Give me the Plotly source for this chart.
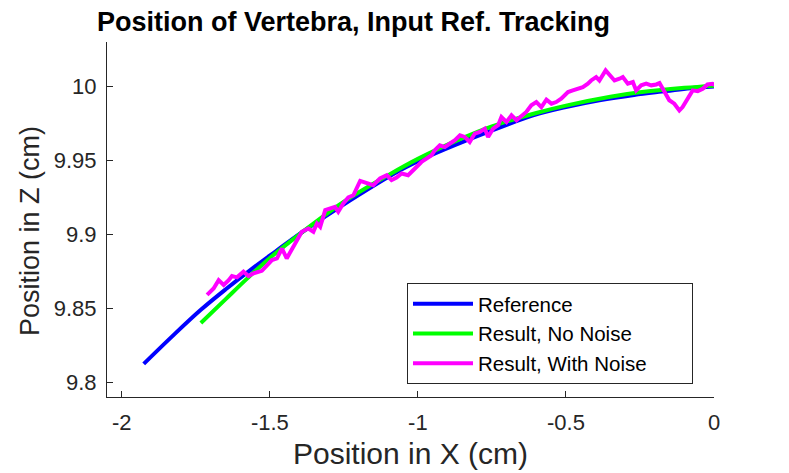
import plotly.graph_objects as go

# reference trajectory (blue)
ref_x = [-1.926, -1.83, -1.734, -1.65, -1.566, -1.48, -1.397, -1.23, -1.060,
         -0.95, -0.835, -0.72, -0.611, -0.50, -0.387, -0.27, -0.162, -0.08, 0.0]
ref_y = [9.8124, 9.8310, 9.8488, 9.8627, 9.8758, 9.8885, 9.9006, 9.9228, 9.9433,
         9.9540, 9.9636, 9.9725, 9.9804, 9.9860, 9.9906, 9.9942, 9.9968, 9.9988, 10.000]

# result without noise (green)
nonoise_x = [-1.733, -1.65, -1.576, -1.5, -1.4, -1.25, -1.1, -1.0, -0.85,
             -0.75, -0.6, -0.5, -0.35, -0.25, -0.1, 0.0]
nonoise_y = [9.840, 9.856, 9.8702, 9.884, 9.900, 9.922, 9.940, 9.951, 9.965,
             9.973, 9.982, 9.987, 9.993, 9.996, 9.999, 10.0005]

# result with noise (magenta)
noise_x = [-1.712, -1.690, -1.673, -1.656, -1.639, -1.628, -1.611, -1.589, -1.572,
           -1.555, -1.527, -1.510, -1.493, -1.476, -1.459, -1.443, -1.426, -1.409,
           -1.392, -1.370, -1.353, -1.341, -1.330, -1.313, -1.297, -1.280, -1.269,
           -1.252, -1.235, -1.218, -1.195, -1.173, -1.151, -1.128, -1.105, -1.089,
           -1.072, -1.055, -1.033, -1.016, -0.999, -0.988, -0.971, -0.954, -0.943,
           -0.926, -0.909, -0.892, -0.875, -0.858, -0.842, -0.825, -0.808, -0.791,
           -0.774, -0.763, -0.746, -0.729, -0.718, -0.701, -0.684, -0.667, -0.650,
           -0.634, -0.617, -0.600, -0.583, -0.566, -0.549, -0.533, -0.516, -0.493,
           -0.477, -0.460, -0.443, -0.426, -0.415, -0.398, -0.387, -0.366, -0.353,
           -0.336, -0.319, -0.308, -0.291, -0.274, -0.263, -0.246, -0.229, -0.212,
           -0.195, -0.184, -0.173, -0.162, -0.151, -0.134, -0.117, -0.106, -0.089,
           -0.072, -0.055, -0.038, -0.022, -0.005, 0.002]
noise_y = [9.8590, 9.8634, 9.8690, 9.8657, 9.8690, 9.8718, 9.8709, 9.8747, 9.8718,
           9.8736, 9.8753, 9.8792, 9.8826, 9.8837, 9.8904, 9.8837, 9.8893, 9.8960,
           9.9017, 9.9039, 9.9017, 9.9073, 9.9050, 9.9163, 9.9174, 9.9185, 9.9152,
           9.9208, 9.9249, 9.9264, 9.9361, 9.9343, 9.9332, 9.9377, 9.9399, 9.9366,
           9.9384, 9.9411, 9.9399, 9.9433, 9.9467, 9.9489, 9.9512, 9.9534, 9.9568,
           9.9602, 9.9590, 9.9613, 9.9636, 9.9669, 9.9658, 9.9624, 9.9681, 9.9692,
           9.9714, 9.9658, 9.9714, 9.9737, 9.9793, 9.9759, 9.9804, 9.9771, 9.9804,
           9.9827, 9.9872, 9.9894, 9.9860, 9.9910, 9.9883, 9.9894, 9.9917, 9.9962,
           9.9973, 9.9984, 9.9995, 10.0018, 10.0040, 10.0063, 10.0040, 10.0108, 10.0074,
           10.0040, 10.0052, 10.0063, 10.0018, 10.0029, 9.9973, 10.0007, 10.0018, 10.0007,
           10.0013, 10.0022, 9.9984, 9.9951, 9.9906, 9.9883, 9.9838, 9.9860, 9.9917,
           9.9973, 9.9968, 9.9984, 10.0013, 10.0018, 10.0010]

x_ticks = [-2, -1.5, -1, -0.5, 0]
y_ticks = [9.8, 9.85, 9.9, 9.95, 10]
series_names = ["Reference", "Result, No Noise", "Result, With Noise"]

fnt = "Liberation Sans, Arial, Helvetica, sans-serif"
axcol = "#262626"

# the page body has an 8px margin, so the figure is a bit smaller than the window
W, H = 781, 465

fig = go.Figure()
fig.add_trace(go.Scatter(x=ref_x, y=ref_y, mode="lines", name=series_names[0],
                         line=dict(color="#0000ff", width=4, shape="spline")))
fig.add_trace(go.Scatter(x=nonoise_x, y=nonoise_y, mode="lines", name=series_names[1],
                         line=dict(color="#00ff00", width=4, shape="spline")))
fig.add_trace(go.Scatter(x=noise_x, y=noise_y, mode="lines",
                         name=series_names[2] + "\u00a0" * 7,
                         line=dict(color="#ff00ff", width=4)))

fig.update_layout(
    width=W, height=H,
    margin=dict(l=99, r=75, t=34, b=76),
    paper_bgcolor="white", plot_bgcolor="white",
    font=dict(family=fnt, color=axcol),
    title=dict(text="<b>Position of Vertebra, Input Ref. Tracking</b>",
               x=89 / W, xanchor="left", xref="container",
               y=1 - 14 / H, yanchor="middle", yref="container",
               font=dict(family=fnt, size=27, color="black")),
    showlegend=True,
    legend=dict(x=(407 - 107) / 607, y=(397 - 283) / 355, xanchor="left", yanchor="top",
                bordercolor=axcol, borderwidth=1, bgcolor="white",
                font=dict(family=fnt, size=20.5, color="black"),
                itemwidth=60, tracegroupgap=0),
)
# y-axis title placed as rotated text so it sits where the original has it
fig.add_annotation(text="Position in Z (cm)", textangle=-90, showarrow=False,
                   xref="paper", yref="paper", x=-(99 - 22) / 607, y=(389 - 223) / 355,
                   xanchor="center", yanchor="middle",
                   font=dict(family=fnt, size=27, color=axcol))
fig.update_xaxes(range=[-2.05, 0], tickvals=x_ticks, ticktext=["-2", "-1.5", "-1", "-0.5", "0"],
                 showgrid=False, zeroline=False, showline=True, linecolor=axcol, linewidth=1,
                 ticks="inside", ticklen=6, tickcolor=axcol, automargin=False,
                 ticklabelstandoff=6,
                 tickfont=dict(size=22, color=axcol),
                 title=dict(text="Position in X (cm)", font=dict(size=30, color=axcol), standoff=8))
fig.update_yaxes(range=[9.79, 10.03], tickvals=y_ticks, ticktext=["9.8", "9.85", "9.9", "9.95", "10"],
                 showgrid=False, zeroline=False, showline=True, linecolor=axcol, linewidth=1,
                 ticks="inside", ticklen=6, tickcolor=axcol, automargin=False,
                 ticklabelstandoff=5,
                 tickfont=dict(size=22, color=axcol))

fig.write_html("out.html")
